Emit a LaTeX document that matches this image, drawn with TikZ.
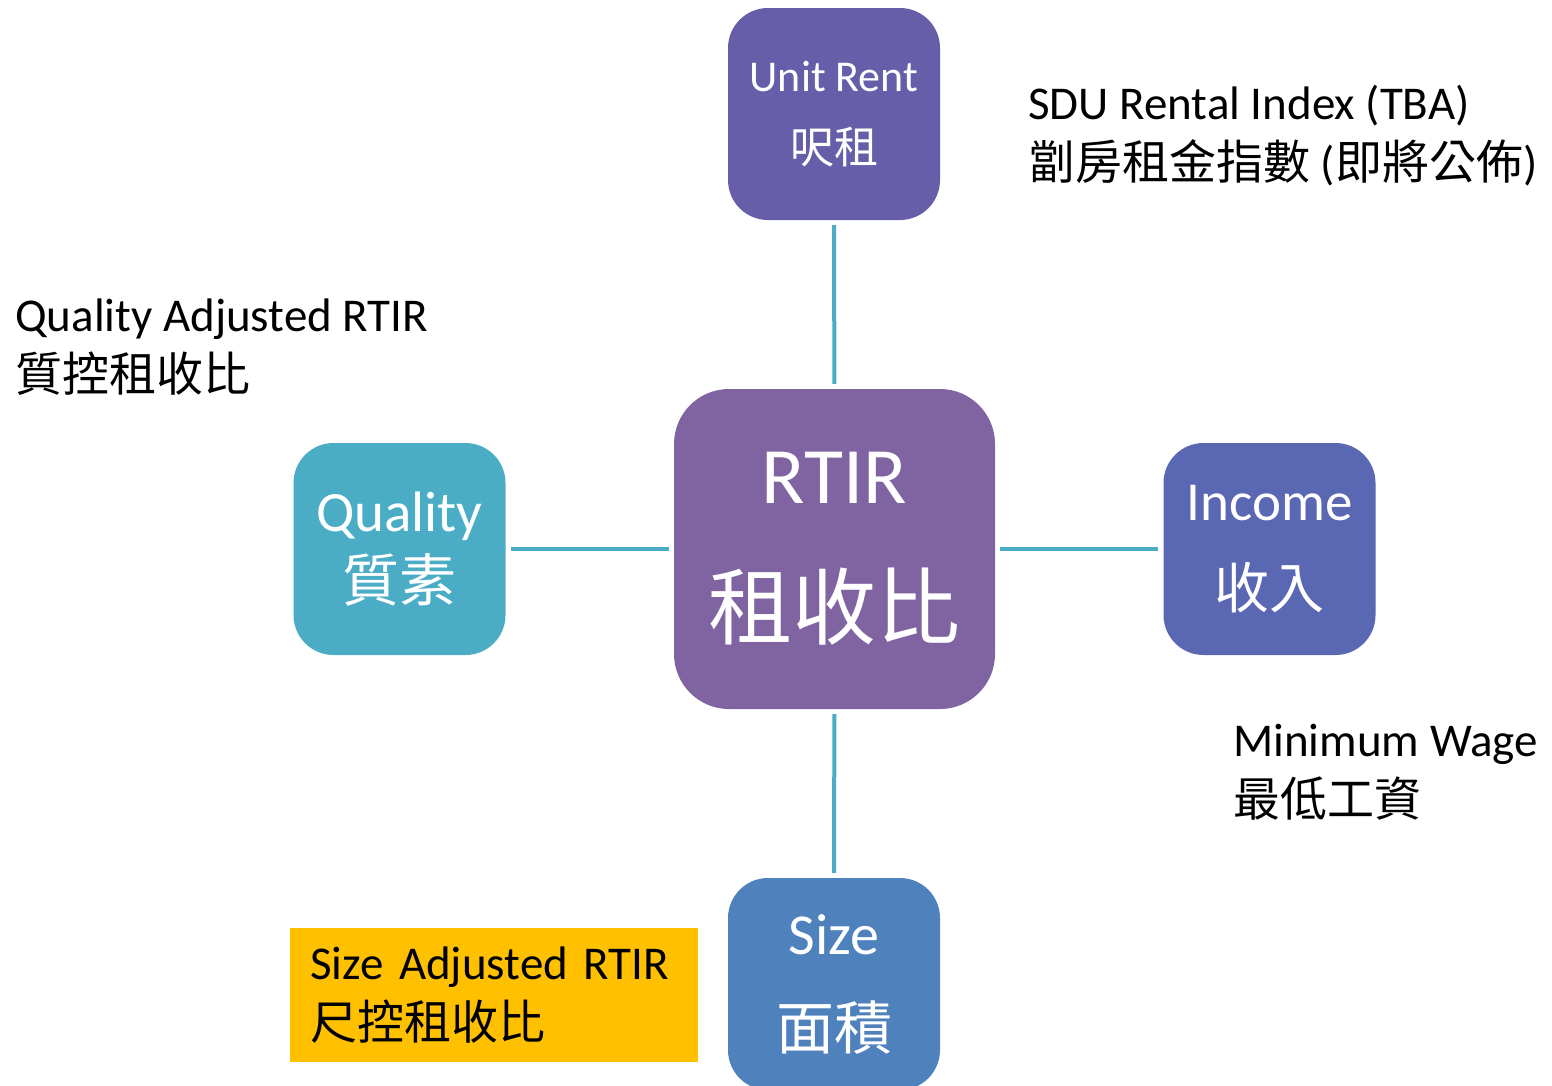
\documentclass[tikz,border=0pt]{standalone}
\usepackage{fontspec}
\setmainfont{Carlito}
\newfontfamily\cjk{Noto Sans CJK TC}
\usetikzlibrary{positioning}
\definecolor{rentcol}{RGB}{103,94,170}
\definecolor{rtircol}{RGB}{128,100,162}
\definecolor{qualcol}{RGB}{75,172,198}
\definecolor{inccol}{RGB}{90,103,179}
\definecolor{sizecol}{RGB}{79,129,189}
\definecolor{notecol}{RGB}{255,192,0}
\tikzset{box/.style={rounded corners=40pt, minimum width=212pt, minimum height=212pt,
    text=white, align=center, inner sep=0pt}}
\tikzset{link/.style={draw=qualcol, line width=4pt, shorten >=5pt, shorten <=5pt}}
\tikzset{note/.style={anchor=base west, align=left, inner sep=0pt,
    font=\fontsize{47}{60}\selectfont}}

\begin{document}
\begin{tikzpicture}[x=1pt, y=-1pt]
  \useasboundingbox (0,0) rectangle (1552,1085);
  \node [box, rounded corners=55pt, fill=rtircol, minimum width=321pt, minimum height=320pt,
    font=\fontsize{80}{135}\selectfont] (rtir) at (834.5,549)
    {RTIR\\{\fontsize{84}{84}\selectfont\cjk 租收比}};
  \node [box, fill=rentcol, font=\fontsize{44}{72}\selectfont] (rent) at (834,114)
    {Unit Rent\\{\cjk 呎租}}
    edge [link] (rtir);
  \node [box, fill=qualcol, font=\fontsize{57}{70}\selectfont] (qual) at (399.5,549)
    {Quality\\{\cjk 質素}}
    edge [link] (rtir);
  \node [box, fill=inccol, font=\fontsize{55}{88}\selectfont] (inc) at (1269.5,549)
    {Income\\{\cjk 收入}}
    edge [link] (rtir);
  \node [box, fill=sizecol, font=\fontsize{58}{95}\selectfont] (size) at (834,984)
    {Size\\{\cjk 面積}}
    edge [link] (rtir);
  % notes (base = last line)
  \node [note] (rentnote) at (1028,179) {SDU Rental Index (TBA)\\{\cjk 劏房租金指數} ({\cjk 即將公佈})};
  \node [note] (qualnote) at (15,391) {Quality Adjusted RTIR\\{\cjk 質控租收比}};
  \node [note] (incnote) at (1233,816) {Minimum Wage\\{\cjk 最低工資}};
  \node [note, anchor=north west, fill=notecol, minimum width=408pt, minimum height=134pt,
    text width=368pt, inner xsep=20pt] (sizenote) at (290,928)
    {Size Adjusted RTIR\\{\cjk 尺控租收比}};
\end{tikzpicture}
\end{document}
